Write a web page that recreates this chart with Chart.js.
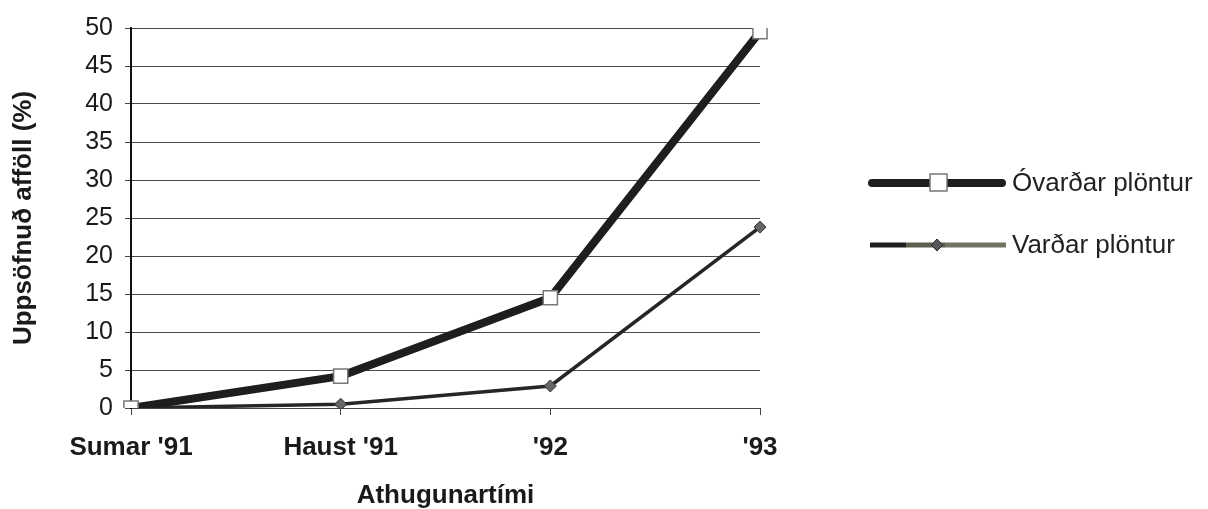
<!DOCTYPE html>
<html>
<head>
<meta charset="utf-8">
<script src="https://cdn.jsdelivr.net/npm/chart.js@4/dist/chart.umd.min.js"></script>
<style>
  html, body { margin: 0; padding: 0; background: #fff; }
  #wrap { width: 1208px; height: 509px; position: relative; }
</style>
</head>
<body>
<div id="wrap"><canvas id="c" width="1208" height="509"></canvas></div>
<script>
// Accumulated losses (%) per observation time
const categories = ["Sumar '91", "Haust '91", "'92", "'93"];
const unprotected = [0, 4.2, 14.5, 49.5];   // Óvarðar plöntur
const protectedPl = [0, 0.5, 2.9, 23.8];    // Varðar plöntur
const yTicks = [0, 5, 10, 15, 20, 25, 30, 35, 40, 45, 50];
const seriesNames = ["Óvarðar plöntur", "Varðar plöntur"];

const FONT = "'Liberation Sans', Arial, Helvetica, sans-serif";

// Legend drawn to the right of the plot: long line sample with marker
const sideLegend = {
  id: 'sideLegend',
  afterDraw(chart) {
    const ctx = chart.ctx;
    ctx.save();
    // Óvarðar plöntur
    let y = 183;
    ctx.strokeStyle = '#1e1e1e';
    ctx.lineWidth = 8;
    ctx.lineCap = 'round';
    ctx.beginPath(); ctx.moveTo(872, y); ctx.lineTo(1002, y); ctx.stroke();
    ctx.fillStyle = '#fff';
    ctx.strokeStyle = '#777';
    ctx.lineWidth = 1.5;
    ctx.fillRect(930, y - 9, 17, 17);
    ctx.strokeRect(930, y - 9, 17, 17);
    // Varðar plöntur
    y = 245;
    ctx.lineCap = 'butt';
    ctx.lineWidth = 5;
    ctx.strokeStyle = '#1e1e1e';
    ctx.beginPath(); ctx.moveTo(870, y); ctx.lineTo(906, y); ctx.stroke();
    ctx.strokeStyle = '#5e5e50';
    ctx.beginPath(); ctx.moveTo(906, y); ctx.lineTo(945, y); ctx.stroke();
    ctx.strokeStyle = '#737363';
    ctx.beginPath(); ctx.moveTo(945, y); ctx.lineTo(1006, y); ctx.stroke();
    ctx.fillStyle = '#555';
    ctx.strokeStyle = '#333';
    ctx.lineWidth = 1;
    ctx.beginPath();
    ctx.moveTo(937, y - 6); ctx.lineTo(943, y); ctx.lineTo(937, y + 6); ctx.lineTo(931, y);
    ctx.closePath(); ctx.fill(); ctx.stroke();
    // labels
    ctx.fillStyle = '#222';
    ctx.font = '26px ' + FONT;
    ctx.textBaseline = 'middle';
    ctx.textAlign = 'left';
    ctx.fillText(seriesNames[0], 1012, 184);
    ctx.fillText(seriesNames[1], 1012, 246);
    ctx.restore();
  }
};

new Chart(document.getElementById('c'), {
  type: 'line',
  data: {
    labels: categories,
    datasets: [
      {
        label: seriesNames[0],
        data: unprotected,
        borderColor: '#1e1e1e',
        borderWidth: 8,
        pointStyle: 'rect',
        pointRadius: 10,
        pointBackgroundColor: '#fff',
        pointBorderColor: '#777',
        pointBorderWidth: 1.5,
        tension: 0
      },
      {
        label: seriesNames[1],
        data: protectedPl,
        borderColor: '#262626',
        borderWidth: 3.5,
        pointStyle: 'rectRot',
        pointRadius: 6,
        pointBackgroundColor: '#666',
        pointBorderColor: '#333',
        pointBorderWidth: 1,
        tension: 0
      }
    ]
  },
  options: {
    responsive: false,
    animation: false,
    layout: { padding: { top: 28, right: 448, bottom: 0, left: 0 } },
    plugins: { legend: { display: false }, tooltip: { enabled: false } },
    scales: {
      x: {
        offset: false,
        afterFit(scale) { scale.height = 101; },
        grid: { drawOnChartArea: false, color: '#444', tickLength: 7, lineWidth: 1 },
        border: { color: '#444', width: 1 },
        ticks: { color: '#1a1a1a', font: { family: FONT, size: 26, weight: 'bold' }, padding: 17, maxRotation: 0 },
        title: {
          display: true, text: 'Athugunartími', color: '#1a1a1a',
          font: { family: FONT, size: 26, weight: 'bold', lineHeight: 1.0 }, padding: { top: 10, bottom: 0 }
        }
      },
      y: {
        min: 0, max: 50,
        afterFit(scale) { scale.width = 131; },
        afterBuildTicks(scale) { scale.ticks = yTicks.map(v => ({ value: v })); },
        grid: { color: '#4a4a4a', lineWidth: 1, tickLength: 6 },
        border: { color: '#111', width: 2 },
        ticks: { color: '#1a1a1a', font: { family: FONT, size: 25 }, padding: 12 },
        title: {
          display: true, text: 'Uppsöfnuð afföll (%)', color: '#1a1a1a',
          font: { family: FONT, size: 26, weight: 'bold' }, padding: { top: 8, bottom: 0 }
        }
      }
    }
  },
  plugins: [sideLegend]
});
</script>
</body>
</html>
